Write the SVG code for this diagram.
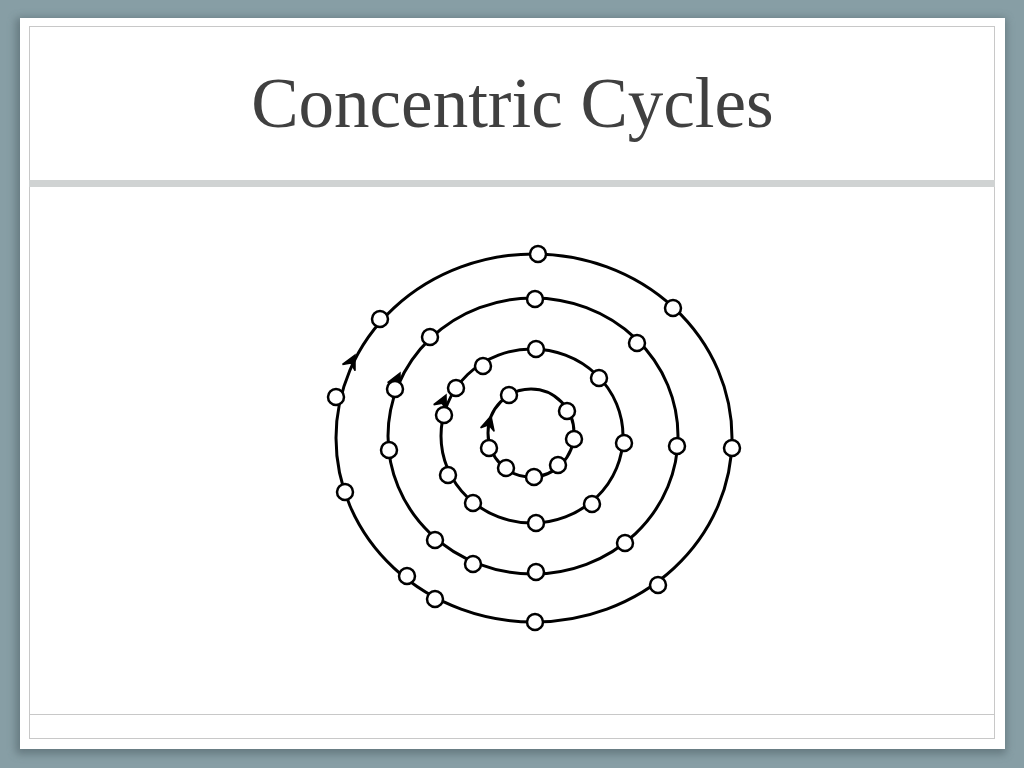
<svg xmlns="http://www.w3.org/2000/svg" width="1024" height="768" viewBox="0 0 1024 768">
<defs>
<style>
.cyc{fill:none;stroke:#000;stroke-width:3}
.nd{fill:#fff;stroke:#000;stroke-width:2.5}
.arr{fill:#000;stroke:#000;stroke-width:1.5;stroke-linejoin:miter}
.title{font-family:"Liberation Serif","Times New Roman",serif;font-size:71px;fill:#404040}
</style>
<filter id="sh" x="-5%" y="-5%" width="110%" height="110%"><feGaussianBlur stdDeviation="4"/></filter>
<path id="ah" d="M0,0 L-14,-7 L-9,0 L-14,7 Z"/>
</defs>
<rect x="0" y="0" width="1024" height="768" fill="#879ea5"/>
<rect x="16" y="18" width="990" height="736" fill="#4d5f65" opacity="0.6" filter="url(#sh)"/>
<rect x="20" y="18" width="985" height="731" fill="#fff"/>
<rect x="29.5" y="26.5" width="965" height="712" fill="none" stroke="#c8c8c8" stroke-width="1"/>
<rect x="29" y="180" width="966" height="7" fill="#d0d3d3"/>
<line x1="29" y1="714.5" x2="995" y2="714.5" stroke="#c8c8c8" stroke-width="1"/>
<text class="title" x="512.5" y="127" text-anchor="middle">Concentric Cycles</text>
<g id="connectors">
<ellipse class="cyc" cx="534" cy="438" rx="198" ry="184"/>
<ellipse class="cyc" cx="533" cy="436" rx="145" ry="138"/>
<ellipse class="cyc" cx="532" cy="436" rx="91" ry="87"/>
<ellipse class="cyc" cx="531" cy="433" rx="43" ry="44"/>
<use href="#ah" class="arr" transform="translate(355,355) rotate(-63.6)"/>
<use href="#ah" class="arr" transform="translate(400,373) rotate(-64.3)"/>
<use href="#ah" class="arr" transform="translate(446,395) rotate(-64.8)"/>
<use href="#ah" class="arr" transform="translate(491,416) rotate(-75)"/>
</g>
<g id="cycle1">
<circle class="nd" cx="538" cy="254" r="8"/><circle class="nd" cx="673" cy="308" r="8"/><circle class="nd" cx="732" cy="448" r="8"/><circle class="nd" cx="658" cy="585" r="8"/><circle class="nd" cx="535" cy="622" r="8"/><circle class="nd" cx="435" cy="599" r="8"/><circle class="nd" cx="407" cy="576" r="8"/><circle class="nd" cx="345" cy="492" r="8"/><circle class="nd" cx="336" cy="397" r="8"/><circle class="nd" cx="380" cy="319" r="8"/>
</g>
<g id="cycle2">
<circle class="nd" cx="535" cy="299" r="8"/><circle class="nd" cx="637" cy="343" r="8"/><circle class="nd" cx="677" cy="446" r="8"/><circle class="nd" cx="625" cy="543" r="8"/><circle class="nd" cx="536" cy="572" r="8"/><circle class="nd" cx="473" cy="564" r="8"/><circle class="nd" cx="435" cy="540" r="8"/><circle class="nd" cx="389" cy="450" r="8"/><circle class="nd" cx="395" cy="389" r="8"/><circle class="nd" cx="430" cy="337" r="8"/>
</g>
<g id="cycle3">
<circle class="nd" cx="536" cy="349" r="8"/><circle class="nd" cx="599" cy="378" r="8"/><circle class="nd" cx="624" cy="443" r="8"/><circle class="nd" cx="592" cy="504" r="8"/><circle class="nd" cx="536" cy="523" r="8"/><circle class="nd" cx="473" cy="503" r="8"/><circle class="nd" cx="448" cy="475" r="8"/><circle class="nd" cx="444" cy="415" r="8"/><circle class="nd" cx="456" cy="388" r="8"/><circle class="nd" cx="483" cy="366" r="8"/>
</g>
<g id="cycle4">
<circle class="nd" cx="509" cy="395" r="8"/><circle class="nd" cx="567" cy="411" r="8"/><circle class="nd" cx="574" cy="439" r="8"/><circle class="nd" cx="558" cy="465" r="8"/><circle class="nd" cx="534" cy="477" r="8"/><circle class="nd" cx="506" cy="468" r="8"/><circle class="nd" cx="489" cy="448" r="8"/>
</g>
</svg>
